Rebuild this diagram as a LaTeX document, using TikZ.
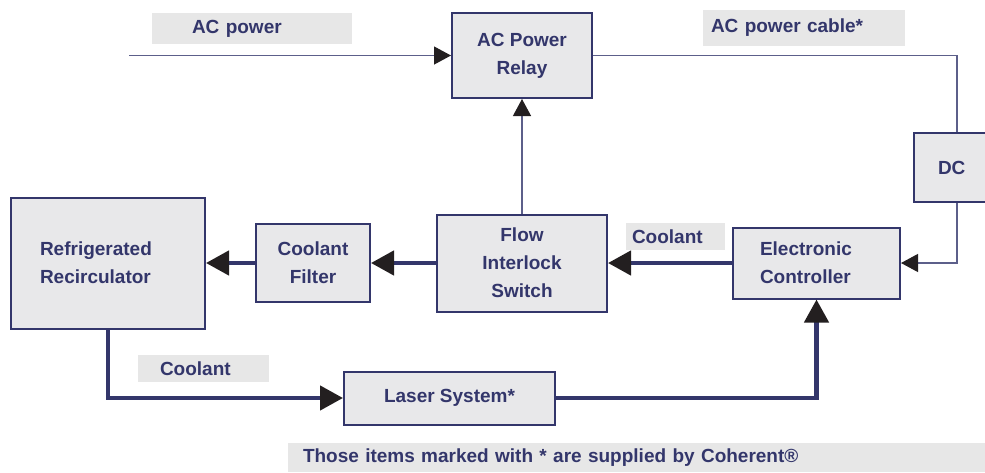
\documentclass[tikz,border=0pt]{standalone}
\usepackage{fontspec}
\setmainfont{Liberation Sans}
\usetikzlibrary{positioning, arrows.meta}

\definecolor{navy}{HTML}{33366B}
\definecolor{thinnavy}{HTML}{5C5F8A}
\definecolor{boxgray}{HTML}{E8E8EA}
\definecolor{labelgray}{HTML}{E7E7E7}
\definecolor{tipblack}{HTML}{231F20}

\begin{document}
\begin{tikzpicture}[
    x=1pt, y=-1pt,
    unit/.style={rectangle, draw=navy, line width=2pt, fill=boxgray, inner sep=0pt,
                 align=center, text=navy, font=\bfseries\fontsize{19}{28}\selectfont},
    tag/.style={rectangle, fill=labelgray, inner ysep=0pt, align=left,
                text=navy, font=\bfseries\fontsize{19}{28}\selectfont},
    wire/.style={line width=1.2pt, thinnavy},
    wirearrow/.style={wire, -{Triangle[length=17pt, width=18pt, color=tipblack]}},
    pipearrow/.style={line width=4.5pt, navy, -{Triangle[length=23pt, width=24pt, color=tipblack]}}
]
\useasboundingbox (0,0) rectangle (985,472);

% Blocks
\node[unit, minimum width=140, minimum height=85] (relay) at (522,55.5) {AC Power\\Relay};
\node[unit, minimum height=69, text width=38, inner xsep=24, align=left] (dc) at (957,167.5) {DC};
\node[unit, minimum height=131, text width=136, inner xsep=29, align=left] (recirc) at (108,263) {Refrigerated\\Recirculator};
\node[unit, minimum width=114, minimum height=78] (filter) at (313,263) {Coolant\\Filter};
\node[unit, minimum width=170, minimum height=97] (flow) at (522,263) {Flow\\Interlock\\Switch};
\node[unit, minimum height=71, text width=113, inner xsep=27, align=left] (ec) at (816.5,263) {Electronic\\Controller};
\node[unit, minimum width=211, minimum height=53] (laser) at (449.5,398) {Laser System*};

% Labels
\node[tag, minimum height=31, text width=120, inner xsep=40] (acpower) at (252,28.5) {AC power};
\node[tag, minimum height=36, text width=186, inner xsep=8] (accable) at (804,28) {AC power cable*};
\node[tag, minimum height=27, text width=87, inner xsep=6] (coolanttop) at (675.5,236.5) {Coolant};
\node[tag, minimum height=27, text width=87, inner xsep=22] (coolantlow) at (203.5,368.5) {Coolant};
\node[tag, minimum height=29, text width=667, inner xsep=15] (note) at (636.5,457.5) {Those items marked with * are supplied by Coherent®};

% Power lines
\coordinate (acin) at (129,55.5);
\draw[wirearrow] (acin) -- (relay);
\draw[wire] (relay) -| (dc);
\draw[wirearrow] (dc) |- (ec);
\draw[wirearrow] (flow) -- (relay);

% Coolant loop
\draw[pipearrow] (ec) -- (flow);
\draw[pipearrow] (flow) -- (filter);
\draw[pipearrow] (filter) -- (recirc);
\draw[pipearrow] (recirc) |- (laser);
\draw[pipearrow] (laser) -| (ec);

\end{tikzpicture}
\end{document}
